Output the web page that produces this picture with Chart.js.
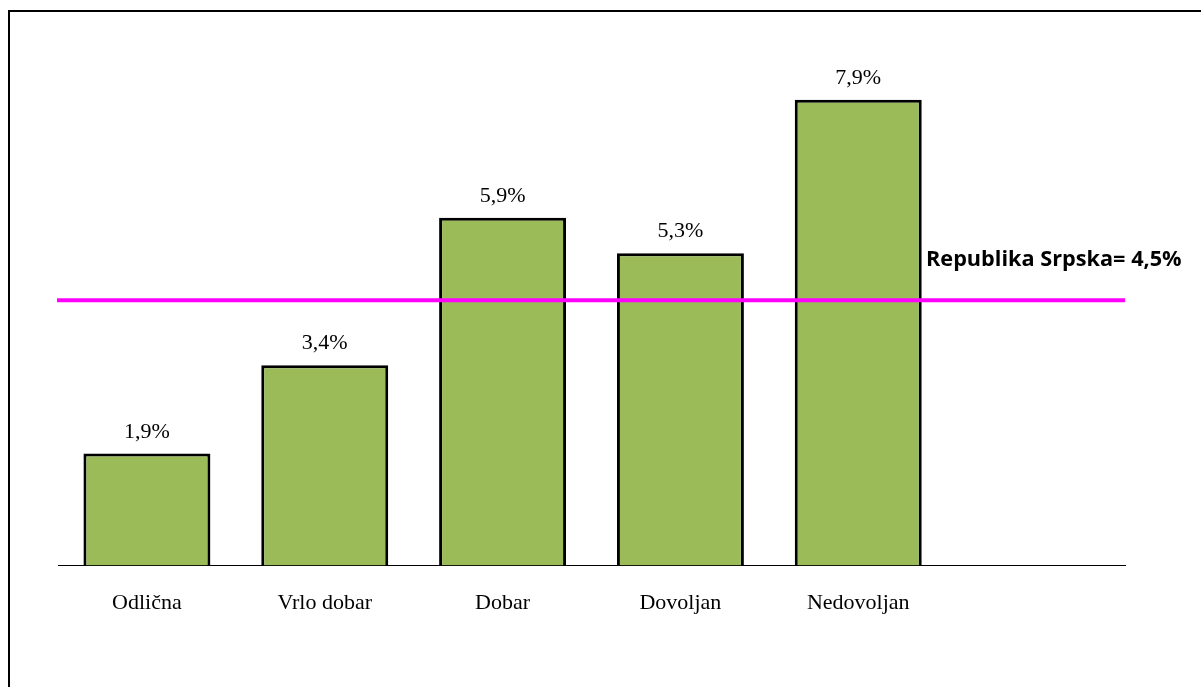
<!DOCTYPE html>
<html>
<head>
<meta charset="utf-8">
<script src="https://cdn.jsdelivr.net/npm/chart.js@4/dist/chart.umd.min.js"></script>
<style>
html,body{margin:0;padding:0;background:#fff;}
#wrap{position:relative;width:1201px;height:687px;}
</style>
</head>
<body>
<div id="wrap"><canvas id="c" width="1201" height="687"></canvas></div>
<script>
const categories = ["Odlična", "Vrlo dobar", "Dobar", "Dovoljan", "Nedovoljan", ""];
const values = [1.9, 3.4, 5.9, 5.3, 7.9, null];
const valueLabels = ["1,9%", "3,4%", "5,9%", "5,3%", "7,9%", ""];
const referenceValue = 4.5;
const referenceLabel = "Republika Srpska= 4,5%";

const framePlugin = {
  id: 'frame',
  afterDraw(chart) {
    const ctx = chart.ctx;
    ctx.save();
    ctx.strokeStyle = '#000';
    ctx.lineWidth = 2;
    ctx.beginPath();
    ctx.moveTo(9, 700);
    ctx.lineTo(9, 11);
    ctx.lineTo(1210, 11);
    ctx.stroke();
    ctx.restore();
  }
};

const refLinePlugin = {
  id: 'refLine',
  afterDatasetsDraw(chart) {
    const ctx = chart.ctx, a = chart.chartArea;
    const y = chart.scales.y.getPixelForValue(referenceValue);
    ctx.save();
    ctx.strokeStyle = '#FF00FF';
    ctx.lineWidth = 4;
    ctx.beginPath();
    ctx.moveTo(a.left - 1, y);
    ctx.lineTo(a.right, y);
    ctx.stroke();
    ctx.fillStyle = '#000';
    ctx.font = 'bold 21.7px "Open Sans"';
    ctx.textAlign = 'left';
    ctx.textBaseline = 'middle';
    ctx.fillText(referenceLabel, a.right - 199, y - 40);
    ctx.restore();
  }
};

const valueLabelPlugin = {
  id: 'valueLabels',
  afterDatasetsDraw(chart) {
    const ctx = chart.ctx;
    const meta = chart.getDatasetMeta(0);
    ctx.save();
    ctx.fillStyle = '#000';
    ctx.font = '22px "Liberation Serif"';
    ctx.textAlign = 'center';
    ctx.textBaseline = 'alphabetic';
    meta.data.forEach((bar, i) => {
      if (values[i] == null) return;
      ctx.fillText(valueLabels[i], bar.x, bar.y - 16);
    });
    ctx.restore();
  }
};

new Chart(document.getElementById('c'), {
  type: 'bar',
  data: {
    labels: categories,
    datasets: [{
      data: values,
      backgroundColor: '#9BBB59',
      borderColor: '#000',
      borderWidth: 3,
      categoryPercentage: 1,
      barPercentage: 0.714
    }]
  },
  options: {
    responsive: false,
    animation: false,
    events: [],
    layout: { padding: { left: 58, right: 76, top: 35, bottom: 47 } },
    plugins: { legend: { display: false }, tooltip: { enabled: false } },
    scales: {
      x: {
        grid: { display: false, drawTicks: false },
        border: { display: true, color: '#000', width: 1 },
        ticks: { color: '#000', font: { family: 'Liberation Serif', size: 22 }, padding: 24, maxRotation: 0 }
      },
      y: {
        display: false,
        min: 0,
        max: 9
      }
    }
  },
  plugins: [framePlugin, refLinePlugin, valueLabelPlugin]
});
</script>
</body>
</html>
